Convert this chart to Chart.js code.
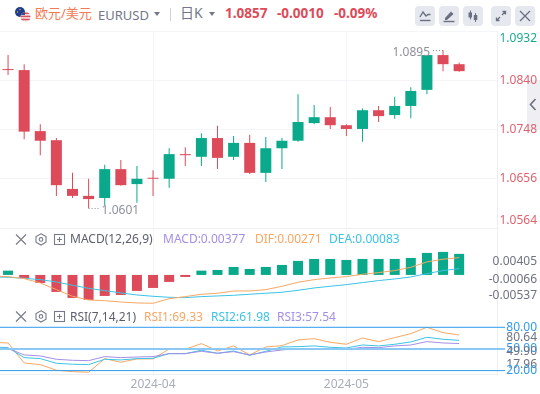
<!DOCTYPE html>
<html lang="zh-CN">

<head>
    <meta charset="UTF-8">
    <title>EURUSD</title>
    <script src="https://cdn.jsdelivr.net/npm/chart.js"></script>
    <style>
        html,
        body {
            margin: 0;
            padding: 0;
            background: #fff;
            width: 540px;
            height: 394px;
            overflow: hidden;
            font-family: "Noto Sans", "Noto Sans CJK SC", sans-serif;
        }

        canvas {
            position: absolute;
            left: 0;
        }

        .txt {
            position: absolute;
            white-space: nowrap;
            line-height: 16px;
            height: 16px;
        }

        .btn {
            position: absolute;
            top: 6px;
            width: 20px;
            height: 20px;
            background: #e6e8f0;
            border-radius: 4px;
        }

        svg {
            position: absolute;
        }

        #tab {
            position: absolute;
            left: 527px;
            top: 80px;
            width: 13px;
            height: 50px;
            background: #eeeef3;
        }
    </style>
</head>

<body>
    <div id="tab"></div>
    <canvas id="mainChart" width="540" height="199" style="top:30px"></canvas>
    <canvas id="macdChart" width="540" height="76" style="top:228px"></canvas>
    <canvas id="rsiChart" width="540" height="90" style="top:304px"></canvas>

    <svg style="left:14px;top:6px" width="20" height="20" viewBox="0 0 20 20">
        <defs>
            <clipPath id="us"><circle cx="11.5" cy="11" r="5"/></clipPath>
        </defs>
        <circle cx="6" cy="6" r="5" fill="#1d3f8f"/>
        <circle cx="6" cy="3.5" r="0.7" fill="#e5c040"/>
        <circle cx="3.5" cy="6" r="0.7" fill="#e5c040"/>
        <g clip-path="url(#us)">
            <rect x="6" y="5" width="11" height="12" fill="#f4f0f0"/>
            <rect x="6" y="6.5" width="11" height="1.6" fill="#d9505f"/>
            <rect x="6" y="9.6" width="11" height="1.6" fill="#d9505f"/>
            <rect x="6" y="12.7" width="11" height="1.6" fill="#d9505f"/>
            <rect x="6" y="5" width="5" height="4" fill="#3a4a8c"/>
        </g>
    </svg>
    <div class="txt" style="left:35px;top:5px;font-size:13px;color:#f47a50">欧元/美元</div>
    <div class="txt" style="left:98px;top:7px;font-size:13px;color:#737789">EURUSD</div>
    <svg style="left:154px;top:12px" width="6" height="5"><path d="M0 0H6L3 4Z" fill="#737789"/></svg>
    <div style="position:absolute;left:170px;top:8px;width:1px;height:13px;background:#cfd2da"></div>
    <div class="txt" style="left:180px;top:5px;font-size:14px;color:#737789">日K</div>
    <svg style="left:209px;top:12px" width="6" height="5"><path d="M0 0H6L3 4Z" fill="#737789"/></svg>
    <div class="txt" style="left:225px;top:5px;font-size:13.5px;font-weight:700;color:#dd4b5a">1.0857</div>
    <div class="txt" style="left:277px;top:5px;font-size:13.5px;font-weight:700;color:#dd4b5a">-0.0010</div>
    <div class="txt" style="left:334px;top:5px;font-size:13.5px;font-weight:700;color:#dd4b5a">-0.09%</div>

    <div class="btn" style="left:415px">
        <svg style="left:0;top:0" width="20" height="20" fill="none" stroke="#6b7080" stroke-width="1.4">
            <path d="M5 11L8 6L11 10L13 8.5H15.5"/><path d="M5 14.5H15.5"/>
        </svg>
    </div>
    <div class="btn" style="left:439px">
        <svg style="left:0;top:0" width="20" height="20">
            <path d="M6 12L12 5.5L14.5 8L8 14H6Z" fill="#6b7080"/><path d="M4.5 15.5H15.5" stroke="#6b7080" stroke-width="1.4"/>
        </svg>
    </div>
    <div class="btn" style="left:463px">
        <svg style="left:0;top:0" width="20" height="20" fill="#6b7080" stroke="#6b7080">
            <path d="M7.5 4.5V13.5M12.5 7V16"/><rect x="5.5" y="6.5" width="3.5" height="5" stroke="none"/><rect x="10.8" y="9" width="3.5" height="5" stroke="none"/>
        </svg>
    </div>
    <div class="btn" style="left:491px">
        <svg style="left:0;top:0" width="20" height="20" fill="none" stroke="#6b7080" stroke-width="1.3">
            <path d="M5.5 14.5L9 11M11 9L14.5 5.5M11.5 5.5H14.5V8.5M5.5 11.5V14.5H8.5"/>
        </svg>
    </div>
    <div class="btn" style="left:515px">
        <svg style="left:0;top:0" width="20" height="20" fill="none" stroke="#6b7080" stroke-width="1.3">
            <path d="M5 5L15 15M15 5L5 15"/>
        </svg>
    </div>

    <svg style="left:15px;top:233px" width="52" height="13" fill="none" stroke="#777b88" stroke-width="1.1">
        <path d="M1 1.5L11 11.5M11 1.5L1 11.5"/>
        <path d="M26 0.8L31 3.6V9.2L26 12L21 9.2V3.6Z"/><circle cx="26" cy="6.4" r="1.8"/>
        <rect x="39.5" y="1.5" width="10" height="10"/><path d="M42 6.5H47M44.5 4V9"/>
    </svg>
    <div class="txt" style="left:70px;top:231px;font-size:12px;color:#5c5f6b">MACD(12,26,9)</div>
    <div class="txt" style="left:163px;top:231px;font-size:12px;color:#a48fe6">MACD:0.00377</div>
    <div class="txt" style="left:255px;top:231px;font-size:12px;color:#f8a764">DIF:0.00271</div>
    <div class="txt" style="left:329px;top:231px;font-size:12px;color:#3cc3e4">DEA:0.00083</div>

    <svg style="left:15px;top:310px" width="52" height="13" fill="none" stroke="#777b88" stroke-width="1.1">
        <path d="M1 1.5L11 11.5M11 1.5L1 11.5"/>
        <path d="M26 0.8L31 3.6V9.2L26 12L21 9.2V3.6Z"/><circle cx="26" cy="6.4" r="1.8"/>
        <rect x="39.5" y="1.5" width="10" height="10"/><path d="M42 6.5H47M44.5 4V9"/>
    </svg>
    <div class="txt" style="left:70px;top:309px;font-size:12px;color:#5c5f6b">RSI(7,14,21)</div>
    <div class="txt" style="left:144px;top:309px;font-size:12px;color:#f8a764">RSI1:69.33</div>
    <div class="txt" style="left:211px;top:309px;font-size:12px;color:#3cc3e4">RSI2:61.98</div>
    <div class="txt" style="left:277px;top:309px;font-size:12px;color:#a48fe6">RSI3:57.54</div>

    <svg style="left:529px;top:98px" width="8" height="13" fill="none" stroke="#6b7080" stroke-width="1.6"><path d="M6.5 1L1.5 6.5L6.5 12"/></svg>

    <script>
        const opens = [1.0860, 1.0859, 1.0745, 1.0728, 1.0637, 1.0624, 1.0620, 1.0674, 1.0646, 1.0657, 1.0656, 1.0702, 1.0697, 1.0732, 1.0697, 1.0723, 1.0667, 1.0713, 1.0727, 1.0760, 1.0771, 1.0756, 1.0749, 1.0784, 1.0775, 1.0792, 1.0822, 1.0887, 1.0870];
        const highs = [1.0887, 1.0870, 1.0758, 1.0732, 1.0667, 1.0656, 1.0682, 1.0691, 1.0680, 1.0672, 1.0713, 1.0715, 1.0741, 1.0755, 1.0736, 1.0738, 1.0734, 1.0732, 1.0814, 1.0794, 1.0790, 1.0758, 1.0787, 1.0792, 1.0809, 1.0827, 1.0887, 1.0896, 1.0873];
        const lows = [1.0850, 1.0730, 1.0700, 1.0624, 1.0620, 1.0601, 1.0607, 1.0643, 1.0611, 1.0624, 1.0639, 1.0680, 1.0680, 1.0674, 1.0691, 1.0665, 1.0650, 1.0674, 1.0725, 1.0758, 1.0749, 1.0736, 1.0725, 1.0762, 1.0768, 1.0769, 1.0814, 1.0857, 1.0856];
        const closes = [1.0859, 1.0744, 1.0727, 1.0644, 1.0624, 1.0618, 1.0674, 1.0644, 1.0656, 1.0656, 1.0702, 1.0700, 1.0732, 1.0695, 1.0723, 1.0667, 1.0713, 1.0727, 1.0762, 1.0771, 1.0756, 1.0749, 1.0784, 1.0773, 1.0792, 1.0820, 1.0887, 1.0870, 1.0857];

        const mainTicks = [1.0932, 1.0840, 1.0748, 1.0656, 1.0564];
        const xTickAt = [9, 21];
        const xTickText = ['2024-04', '2024-05'];

        const macdBars = [0.00077, -0.00054, -0.00143, -0.00304, -0.00412, -0.00447, -0.00376, -0.00358, -0.00286, -0.00233, -0.00125, -0.00036, 0.00077, 0.00089, 0.00143, 0.00107, 0.00143, 0.00179, 0.00251, 0.00286, 0.00286, 0.00268, 0.00286, 0.00286, 0.00286, 0.00304, 0.00394, 0.00412, 0.00377];
        // the line series start one session before the first candle
        const dif = [-0.00024, -0.0003, -0.00066, -0.00143, -0.00263, -0.00382, -0.00448, -0.0046, -0.00484, -0.00501, -0.00507, -0.00424, -0.00388, -0.00346, -0.00328, -0.00287, -0.00287, -0.00263, -0.00203, -0.00131, -0.00084, -0.00054, -0.0003, 0.00012, 0.00042, 0.00078, 0.00137, 0.00233, 0.00281, 0.0031];
        const dea = [-0.00036, -0.00042, -0.0006, -0.00084, -0.00125, -0.00185, -0.00239, -0.00281, -0.00322, -0.00358, -0.00382, -0.004, -0.00406, -0.00388, -0.00376, -0.00364, -0.00346, -0.00328, -0.0031, -0.00275, -0.00233, -0.00203, -0.00173, -0.00137, -0.00101, -0.00072, -0.00036, 0.00024, 0.00078, 0.00113];
        const macdTickLabels = ['0.00405', '-0.00066', '-0.00537'];
        const macdTickAt = [0.00246, -0.00088, -0.00368];

        const rsi1 = [59.2, 58.3, 30.6, 28.3, 20.5, 18.6, 17.7, 36.6, 31.5, 36.2, 36.2, 50, 49.5, 57.4, 47.2, 54.2, 41.7, 52.8, 54.6, 62.5, 64.3, 59.2, 56.5, 65.2, 60.2, 65.7, 71.2, 80, 72.6, 69.33];
        const rsi2 = [52.8, 51.8, 38, 36.6, 30.2, 28.8, 28.3, 35.7, 34.8, 36.6, 37.1, 43.5, 43.5, 48.2, 44, 47.2, 41.2, 46.8, 52.8, 53.2, 54.2, 52.3, 51.4, 55.5, 54.2, 56.5, 59.7, 66.2, 63.4, 61.98];
        const rsi3 = [50.9, 50.9, 41.7, 40.3, 35.7, 34.3, 33.8, 39.4, 38, 38.9, 39.4, 43.5, 43.5, 46.8, 44, 46.3, 41.7, 45.8, 48.6, 50.5, 50.5, 49.5, 49.5, 52.3, 51.8, 54.2, 55.5, 60.2, 58.3, 57.54];
        const rsiLevels = [80, 50, 20];
        const rsiTickLabels = ['80.00', '80.64', '50.00', '49.90', '17.96', '20.00'];
        const rsiTickAt = [80, 65.2, 50, 45.7, 29, 20];

        const RED = '#dd4b5a';
        const GREEN = '#0aa98b';
        const GRID = '#f4f5f8';
        const FONT = '"Noto Sans", "Noto Sans CJK SC", sans-serif';
        const sessions = opens.map((_, i) => i);
        const candleColors = opens.map((o, i) => closes[i] > o ? GREEN : RED);

        function lineSet(values, color) {
            return {
                type: 'line',
                data: values.map((v, i) => ({ x: i - 1, y: v })),
                borderColor: color,
                borderWidth: 1,
                pointRadius: 0,
                tension: 0
            };
        }

        function xAxis(showLabels) {
            return {
                type: 'linear',
                min: -0.5,
                max: 30.35,
                offset: false,
                afterBuildTicks: axis => { axis.ticks = xTickAt.map(v => ({ value: v })); },
                afterFit: axis => {
                    axis.paddingLeft = 0;
                    axis.paddingRight = 0;
                    if (showLabels) axis.height = 20;
                },
                grid: { color: GRID, drawTicks: false, offset: false },
                border: { color: '#eceef2' },
                ticks: {
                    display: showLabels,
                    autoSkip: false,
                    maxRotation: 0,
                    padding: 3,
                    color: '#a9adb9',
                    font: { family: FONT, size: 12 },
                    callback: (v) => xTickText[xTickAt.indexOf(v)]
                }
            };
        }

        // mirror keeps the long labels from being clipped at the axis edge
        function yAxis(at, labels, min, max, colorOf, drawGrid) {
            return {
                position: 'right',
                min: min,
                max: max,
                afterBuildTicks: axis => { axis.ticks = at.map(v => ({ value: v })); },
                afterFit: axis => {
                    axis.width = 43;
                    axis.paddingTop = 0;
                    axis.paddingBottom = 0;
                },
                grid: { display: drawGrid, color: GRID, drawTicks: false },
                border: { color: '#eceef2' },
                ticks: {
                    autoSkip: false,
                    mirror: true,
                    padding: 40,
                    font: { family: FONT, size: 12 },
                    color: ctx => colorOf(ctx.index),
                    callback: (v, i) => labels[i]
                }
            };
        }

        function baseOptions(x, y, pad) {
            return {
                responsive: false,
                animation: false,
                events: [],
                layout: { padding: pad },
                plugins: { legend: { display: false }, tooltip: { enabled: false } },
                scales: { x: x, y: y }
            };
        }

        // high and low markers next to the candles
        const extremes = {
            id: 'extremes',
            afterDatasetsDraw(chart) {
                const { ctx, scales } = chart;
                const marks = [
                    { i: highs.indexOf(Math.max(...highs)), v: Math.max(...highs), text: '1.0895', side: -1, dy: 2 },
                    { i: lows.indexOf(Math.min(...lows)), v: Math.min(...lows), text: '1.0601', side: 1, dy: 2 }
                ];
                ctx.save();
                ctx.font = '12px ' + FONT;
                ctx.fillStyle = '#8e909c';
                ctx.strokeStyle = '#8e909c';
                ctx.textBaseline = 'middle';
                marks.forEach(m => {
                    const px = scales.x.getPixelForValue(m.i);
                    const py = Math.round(scales.y.getPixelForValue(m.v)) + 0.5;
                    ctx.setLineDash([1, 2]);
                    ctx.beginPath();
                    ctx.moveTo(px, py);
                    ctx.lineTo(px + m.side * 10, py);
                    ctx.stroke();
                    ctx.textAlign = m.side < 0 ? 'right' : 'left';
                    ctx.fillText(m.text, px + m.side * 13, py + m.dy);
                });
                ctx.restore();
            }
        };

        const mainLabels = mainTicks.map((v, i) => {
            const s = v.toFixed(4);
            if (i === 0) return ['', s];
            if (i === mainTicks.length - 1) return [s, ''];
            return s;
        });

        new Chart(document.getElementById('mainChart'), {
            type: 'bar',
            data: {
                labels: sessions,
                datasets: [
                    {
                        data: lows.map((l, i) => [l, highs[i]]),
                        backgroundColor: candleColors,
                        barThickness: 1,
                        grouped: false,
                        inflateAmount: 0
                    },
                    {
                        data: opens.map((o, i) => [o, closes[i]]),
                        backgroundColor: candleColors,
                        barThickness: 11,
                        grouped: false,
                        inflateAmount: 0,
                        minBarLength: 1
                    }
                ]
            },
            options: baseOptions(
                xAxis(false),
                yAxis(mainTicks, mainLabels, 1.0564, 1.0932, i => i === 0 ? '#1aaa8e' : '#e0626f', true),
                { top: 1, bottom: 1 }
            ),
            plugins: [extremes]
        });

        new Chart(document.getElementById('macdChart'), {
            type: 'bar',
            data: {
                labels: sessions,
                datasets: [
                    {
                        data: macdBars,
                        backgroundColor: macdBars.map(v => v >= 0 ? GREEN : RED),
                        barThickness: 10,
                        inflateAmount: 0,
                        order: 2
                    },
                    Object.assign(lineSet(dif, '#f8a764'), { order: 0 }),
                    Object.assign(lineSet(dea, '#3cc3e4'), { order: 1 })
                ]
            },
            options: baseOptions(
                xAxis(false),
                yAxis(macdTickAt, macdTickLabels, -0.0052, 0.0084, () => '#6f7280', false),
                0
            )
        });

        const levelSets = rsiLevels.map(v => ({
            type: 'line',
            data: [{ x: -0.5, y: v }, { x: 30.85, y: v }],
            borderColor: v === 50 ? '#8cc8f6' : '#2f9bf0',
            borderWidth: v === 50 ? 2 : 1,
            pointRadius: 0,
            clip: false
        }));

        new Chart(document.getElementById('rsiChart'), {
            type: 'line',
            data: {
                datasets: levelSets.concat([
                    lineSet(rsi3, '#a48fe6'),
                    lineSet(rsi2, '#3cc3e4'),
                    lineSet(rsi1, '#f8a764')
                ])
            },
            options: baseOptions(
                xAxis(true),
                yAxis(rsiTickAt, rsiTickLabels, 15.3, 112.3, i => (i === 0 || i === 2 || i === 5) ? '#2f9bf0' : '#6f7280', false),
                0
            )
        });
    </script>
</body>

</html>
